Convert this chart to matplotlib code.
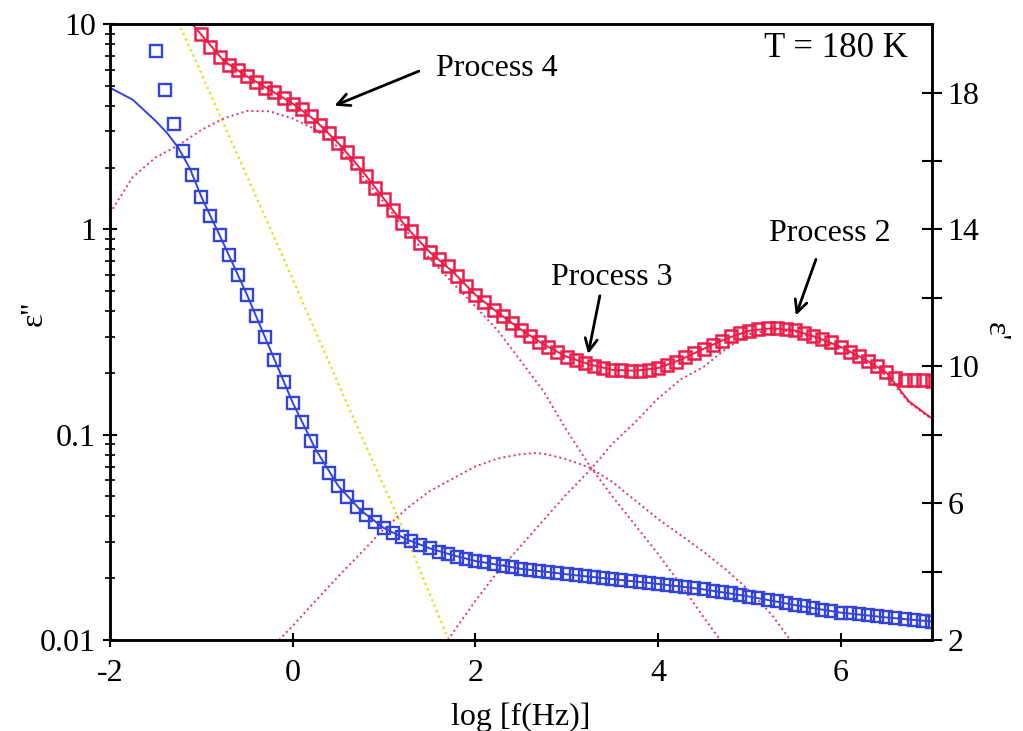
"""
Dielectric loss / permittivity spectra, T = 180 K
"""
import numpy as np
import matplotlib
matplotlib.use('Agg')
import matplotlib.pyplot as plt
from matplotlib.ticker import LogLocator, NullFormatter

plt.rcParams['font.family'] = ['Liberation Serif', 'DejaVu Serif']

# measured log frequency grid (blue uses all of it, red starts at -1.0)
logf = [-1.5, -1.4, -1.3, -1.2, -1.1, -1.0, -0.9, -0.8, -0.7, -0.6,
        -0.5, -0.4, -0.3, -0.2, -0.1, 0.0, 0.1, 0.2, 0.3, 0.4,
        0.5, 0.6, 0.7, 0.8, 0.9, 1.0, 1.1, 1.2, 1.3, 1.4,
        1.5, 1.6, 1.7, 1.8, 1.9, 2.0, 2.1, 2.2, 2.3, 2.4,
        2.5, 2.6, 2.7, 2.8, 2.9, 3.0, 3.1, 3.2, 3.3, 3.4,
        3.5, 3.6, 3.7, 3.8, 3.9, 4.0, 4.1, 4.2, 4.3, 4.4,
        4.5, 4.6, 4.7, 4.8, 4.9, 5.0, 5.1, 5.2, 5.3, 5.4,
        5.5, 5.6, 5.7, 5.8, 5.9, 6.0, 6.1, 6.2, 6.3, 6.4,
        6.5, 6.6, 6.7, 6.8, 6.9, 7.0]

# eps' (right axis)
eps1 = [19.20, 18.06, 17.09, 16.30, 15.58, 14.96, 14.38, 13.85, 13.26, 12.68,
        12.09, 11.48, 10.86, 10.19, 9.55, 8.94, 8.37, 7.82, 7.34, 6.89,
        6.50, 6.17, 5.90, 5.66, 5.46, 5.27, 5.12, 5.00, 4.88, 4.78,
        4.68, 4.58, 4.52, 4.44, 4.38, 4.31, 4.27, 4.22, 4.16, 4.12,
        4.08, 4.05, 4.02, 3.99, 3.95, 3.92, 3.89, 3.86, 3.83, 3.80,
        3.78, 3.75, 3.73, 3.70, 3.67, 3.64, 3.61, 3.58, 3.55, 3.52,
        3.48, 3.43, 3.40, 3.36, 3.32, 3.27, 3.23, 3.18, 3.13, 3.08,
        3.02, 2.98, 2.94, 2.89, 2.85, 2.80, 2.78, 2.75, 2.72, 2.69,
        2.66, 2.63, 2.60, 2.57, 2.56, 2.54]

# eps'' (left axis), from logf = -1.0
eps2 = [8.91, 7.76, 6.92, 6.31, 5.96, 5.56, 5.22, 4.90, 4.66, 4.37,
        4.10, 3.85, 3.57, 3.24, 2.95, 2.63, 2.37, 2.10, 1.83, 1.59,
        1.41, 1.25, 1.08, 0.977, 0.861, 0.776, 0.716, 0.661, 0.592, 0.528,
        0.481, 0.444, 0.407, 0.377, 0.349, 0.325, 0.303, 0.284, 0.266, 0.252,
        0.240, 0.232, 0.224, 0.216, 0.211, 0.207, 0.206, 0.205, 0.205, 0.207,
        0.211, 0.218, 0.226, 0.239, 0.251, 0.262, 0.272, 0.286, 0.301, 0.312,
        0.321, 0.327, 0.330, 0.330, 0.328, 0.322, 0.313, 0.303, 0.292, 0.282,
        0.268, 0.254, 0.242, 0.229, 0.215, 0.201, 0.189, 0.185, 0.184, 0.184,
        0.183]

# fit curves
fit1_x = [-2.0, -1.75, -1.5, -1.375, -1.25, -1.125, -1.0, -0.875, -0.75, -0.5, -0.25,
          0.0, 0.25, 0.5, 0.75, 1.0, 1.25, 1.5, 1.75, 2.0, 2.5, 3.0, 3.5, 4.0, 4.5,
          5.0, 5.5, 6.0, 6.5, 7.0]
fit1_y = [18.14, 17.79, 17.17, 16.82, 16.38, 15.78, 14.96, 14.25, 13.55, 12.09, 10.52,
          8.94, 7.58, 6.50, 5.78, 5.27, 4.94, 4.68, 4.48, 4.31, 4.08, 3.92, 3.78, 3.64, 3.48,
          3.27, 3.02, 2.80, 2.66, 2.54]

fit2_x = [-1.1, -0.75, -0.5, -0.25, 0.0, 0.25, 0.5, 0.75, 1.0, 1.25, 1.5, 1.75, 2.0,
          2.25, 2.5, 2.75, 3.0, 3.25, 3.5, 3.75, 4.0, 4.25, 4.5, 4.75, 5.0, 5.25,
          5.5, 5.75, 6.0, 6.25, 6.5, 6.75, 7.0]
fit2_y = [10.0, 6.6, 5.56, 4.79, 4.10, 3.39, 2.63, 1.96, 1.41, 1.02, 0.776, 0.624, 0.481,
          0.392, 0.325, 0.275, 0.240, 0.220, 0.207, 0.205, 0.211, 0.232, 0.262, 0.294, 0.321, 0.330,
          0.322, 0.297, 0.268, 0.235, 0.201, 0.145, 0.120]

# process components
p4_x = [-2.0, -1.75, -1.5, -1.25, -1.0, -0.75, -0.5, -0.25, 0.0, 0.25, 0.5, 0.75, 1.0,
        1.25, 1.5, 1.75, 2.0, 2.25, 2.5, 2.75, 3.0, 3.25, 3.5, 3.75, 4.0, 4.25, 4.5, 4.75]
p4_y = [1.20, 1.80, 2.24, 2.57, 3.05, 3.48, 3.78, 3.76, 3.47, 3.07, 2.51, 1.86, 1.35,
        0.977, 0.724, 0.550, 0.422, 0.320, 0.228, 0.162, 0.105, 0.0708, 0.0501, 0.0363,
        0.0263, 0.0186, 0.0129, 0.0091]

p3_x = [-0.15, 0.0, 0.25, 0.5, 0.75, 1.0, 1.25, 1.5, 1.75, 2.0, 2.25, 2.5, 2.65, 2.75,
        3.0, 3.25, 3.5, 3.75, 4.0, 4.25, 4.5, 4.75, 5.0, 5.25, 5.45]
p3_y = [0.0100, 0.0117, 0.0155, 0.0204, 0.0266, 0.0347, 0.0437, 0.0531, 0.0610, 0.0700,
        0.0767, 0.0804, 0.0813, 0.0809, 0.0759, 0.0692, 0.0589, 0.0479, 0.0389, 0.0324,
        0.0269, 0.0219, 0.0174, 0.0132, 0.0100]

p2_x = [1.7, 2.0, 2.25, 2.5, 2.75, 3.0, 3.25, 3.5, 3.75, 4.0, 4.25, 4.5, 4.75, 5.0,
        5.25, 5.5, 5.75, 6.0, 6.25, 6.5, 6.75, 7.0]
p2_y = [0.0100, 0.0155, 0.0216, 0.0288, 0.0385, 0.0513, 0.0668, 0.0902, 0.115, 0.150,
        0.186, 0.214, 0.263, 0.309, 0.324, 0.318, 0.292, 0.263, 0.229, 0.195, 0.143, 0.119]

# conductivity
cond_x = [-1.25, -0.14, 0.66, 1.18, 1.7]
cond_y = [10.2, 0.794, 0.122, 0.0372, 0.0102]

red = '#ee1c48'
blue = '#3344dd'

fig = plt.figure(figsize=(10.23, 7.31), dpi=100)
ax = fig.add_axes([0.1075, 0.1245, 0.8035, 0.8425])
ax2 = ax.twinx()

ax.plot(cond_x, cond_y, ':', color='#e2dc10', lw=1.6)
for px, py in ((p4_x, p4_y), (p3_x, p3_y), (p2_x, p2_y)):
    ax.plot(px, py, ':', color='#e8306a', lw=1.4)
ax.plot(fit2_x, fit2_y, '-', color=red, lw=1.4)
ax.plot(logf[5:], eps2, 's', mfc='none', mec=red, mew=1.8, ms=8.5)

ax2.plot(fit1_x, fit1_y, '-', color=blue, lw=1.4)
ax2.plot(logf, eps1, 's', mfc='none', mec=blue, mew=1.7, ms=8.5)

ax.set_xlim(-2, 7)
ax.set_yscale('log')
ax.set_ylim(0.01, 10)
ax.set_yticks([0.01, 0.1, 1, 10], ['0.01', '0.1', '1', '10'])
ax.yaxis.set_minor_locator(LogLocator(base=10, subs=range(2, 10)))
ax.yaxis.set_minor_formatter(NullFormatter())
ax.set_xticks([-2, 0, 2, 4, 6], ['-2', '0', '2', '4', '6'])

ax2.set_ylim(2, 20)
ax2.set_yticks([2, 6, 10, 14, 18])
ax2.set_yticks([4, 8, 12, 16], minor=True)

ax.tick_params(axis='both', which='major', direction='inout', length=10, width=1.5,
               labelsize=23, pad=5)
ax.tick_params(axis='x', pad=9)
ax.tick_params(axis='y', which='minor', direction='inout', length=7, width=1.2)
ax2.tick_params(axis='y', which='both', direction='inout', length=14, width=1.5,
                labelsize=23, pad=4)
for a in (ax, ax2):
    for s in a.spines.values():
        s.set_linewidth(1.8)

ax.set_xlabel('log [f(Hz)]', fontsize=23, labelpad=10)
ax.set_ylabel("ε''", fontsize=23)
ax.yaxis.set_label_coords(-0.074, 0.53)
ax2.set_ylabel("ε'", fontsize=23, rotation=-90, labelpad=22)

ax.text(6.74, 7.65, 'T = 180 K', fontsize=25, ha='right', va='center')

arrow = dict(arrowstyle='->', color='black', lw=2, mutation_scale=22)
ax.text(2.24, 6.1, 'Process 4', fontsize=23, ha='center', va='center')
ax.annotate('', xy=(0.43, 3.96), xytext=(1.41, 5.97), arrowprops=arrow)
ax.text(3.5, 0.58, 'Process 3', fontsize=23, ha='center', va='center')
ax.annotate('', xy=(3.23, 0.24), xytext=(3.37, 0.49), arrowprops=arrow)
ax.text(5.88, 0.95, 'Process 2', fontsize=23, ha='center', va='center')
ax.annotate('', xy=(5.50, 0.37), xytext=(5.74, 0.736), arrowprops=arrow)

fig.savefig('out.png', dpi=100)
